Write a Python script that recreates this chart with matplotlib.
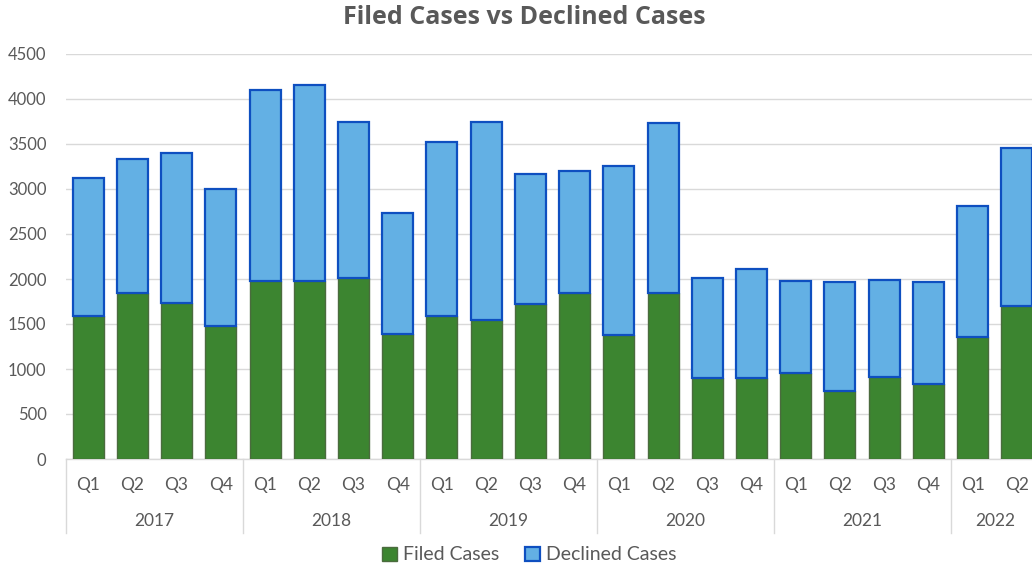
import numpy as np
import matplotlib
matplotlib.use("Agg")
import matplotlib.pyplot as plt

plt.rcParams['font.family'] = ['Lato', 'DejaVu Sans']

years = ["2017", "2018", "2019", "2020", "2021", "2022"]
quarters = ["Q1", "Q2", "Q3", "Q4"] * 5 + ["Q1", "Q2"]
filed = [1590, 1840, 1735, 1480, 1980, 1980, 2010, 1385,
         1590, 1545, 1725, 1845, 1380, 1845, 897, 905,
         956, 760, 906, 837, 1355, 1705]
total = [3120, 3332, 3400, 3000, 4100, 4157, 3740, 2737,
         3521, 3746, 3169, 3203, 3258, 3736, 2016, 2114,
         1977, 1965, 1986, 1968, 2811, 3455]
declined = [t - f for t, f in zip(total, filed)]

gray = "#595959"
fig = plt.figure(figsize=(10.32, 5.67), dpi=100)
ax = fig.add_axes([66 / 1032, 108 / 567, 973 / 1032, 405 / 567])

x = np.arange(len(filed))
ax.bar(x, filed, width=0.70, color="#3C8530", edgecolor="#4B6B3E",
       linewidth=1.0, label="Filed Cases", zorder=3)
ax.bar(x, declined, width=0.70, bottom=filed, color="#63B0E4",
       edgecolor="#0E4FC0", linewidth=1.6, label="Declined Cases", zorder=3)

ax.set_xlim(-0.5, len(filed) - 0.5)
ax.set_ylim(0, 4500)
ax.set_yticks(range(0, 4501, 500))
ax.yaxis.grid(True, color="#D9D9D9", linewidth=1.0, zorder=0)
ax.tick_params(axis="y", length=0, pad=14, labelsize=12, labelcolor=gray)
ax.set_xticks([])
for side in ["top", "right", "left"]:
    ax.spines[side].set_visible(False)
ax.spines["bottom"].set_color("#D9D9D9")
ax.spines["bottom"].set_linewidth(1.0)

trans = ax.get_xaxis_transform()
for i, q in enumerate(quarters):
    ax.text(i, -0.064, q, transform=trans, ha="center", va="center",
            fontsize=12.5, color=gray)

pos = 0
for y in years:
    n = 4 if y != "2022" else 2
    ax.plot([pos - 0.5, pos - 0.5], [0, -0.183], transform=trans,
            color="#D9D9D9", linewidth=1.0, clip_on=False)
    ax.text(pos - 0.5 + n / 2, -0.153, y, transform=trans, ha="center",
            va="center", fontsize=12.5, color=gray)
    pos += n

fig.text(0.508, 1 - 18 / 567, "Filed Cases vs Declined Cases", ha="center",
         va="center", fontsize=18, fontweight="bold", color=gray,
         family=["Open Sans", "DejaVu Sans"])

fig.legend(loc="center", bbox_to_anchor=(0.513, 1 - 555 / 567), ncol=2,
           frameon=False, fontsize=14, labelcolor=gray, handlelength=0.75,
           handleheight=0.75, handletextpad=0.35, columnspacing=1.3)

fig.savefig("out.png", dpi=100)
